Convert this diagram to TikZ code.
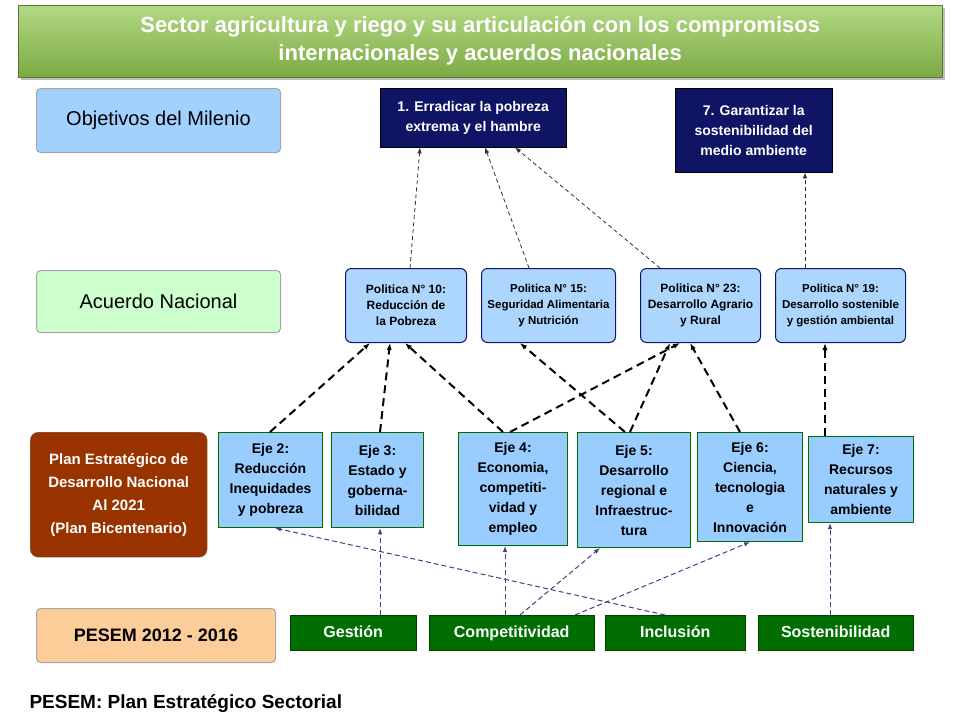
\documentclass[tikz,border=0pt]{standalone}
\usepackage{fontspec}
\setmainfont{Liberation Sans}
\usepackage{tikz}
\usetikzlibrary{arrows.meta,shadows}

\definecolor{navy}{RGB}{16,20,100}
\definecolor{lblue}{RGB}{153,204,255}
\definecolor{lgreen}{RGB}{204,255,204}
\definecolor{brown}{RGB}{153,51,0}
\definecolor{peach}{RGB}{252,204,153}
\definecolor{dgreen}{RGB}{0,110,0}
\definecolor{tgreen}{RGB}{146,200,80}

\tikzset{
	rowlabel/.style={shape=rectangle,rounded corners=4pt,draw=gray!70,line width=1pt,font=\fontsize{20}{22}\selectfont,anchor=north west},
	goal/.style={shape=rectangle,fill=navy,draw=black,text=white,font=\bfseries\fontsize{14}{20}\selectfont,align=center,anchor=north west},
	policy/.style={shape=rectangle,rounded corners=6pt,fill=lblue!80,draw=navy,line width=1pt,font=\bfseries\fontsize{12}{16}\selectfont,align=center,anchor=north west},
	eje/.style={shape=rectangle,fill=lblue,draw=dgreen,line width=1pt,font=\bfseries\fontsize{14}{20}\selectfont,align=center,anchor=north west},
	pesem/.style={shape=rectangle,fill=dgreen,draw=dgreen!60!black,text=white,font=\bfseries\fontsize{16}{18}\selectfont,anchor=north west,minimum height=35pt,text height=12pt,text depth=3pt},
	ejearrow/.style={-{Latex[length=7pt]},line width=2pt,dash pattern=on 8pt off 5pt},
	polarrow/.style={-{Latex[length=6pt]},line width=0.8pt,draw=black!80,dash pattern=on 4pt off 3pt},
	pesarrow/.style={-{Latex[length=6pt]},line width=1pt,draw=navy!80,dash pattern=on 5pt off 3pt}
}

\begin{document}
\begin{tikzpicture}[x=1pt,y=-1pt]
	\useasboundingbox (0,0) rectangle (960,720);

	\node[shape=rectangle,anchor=north west,minimum width=924pt,minimum height=72pt,top color=tgreen!70!white,bottom color=tgreen!85!black,draw=tgreen!60!black,drop shadow,text=white,font=\bfseries\fontsize{22}{28}\selectfont,align=center] (title) at (18,5) {Sector agricultura y riego y su articulación con los compromisos\\internacionales y acuerdos nacionales};

	\node[rowlabel,fill=lblue!90,minimum width=244pt,minimum height=64pt] (obj) at (36,88) {Objetivos del Milenio};
	\node[rowlabel,fill=lgreen,minimum width=244pt,minimum height=62pt] (acu) at (36,270) {Acuerdo Nacional};
	\node[shape=rectangle,rounded corners=8pt,fill=brown,draw=gray,text=white,font=\bfseries\fontsize{15}{23}\selectfont,align=center,anchor=north west,minimum width=177pt,minimum height=125pt] (plan) at (30,432) {Plan Estratégico de\\Desarrollo Nacional\\Al 2021\\(Plan Bicentenario)};
	\node[rowlabel,fill=peach,font=\bfseries\fontsize{18}{20}\selectfont,minimum width=239pt,minimum height=54pt] (pes) at (36,608) {PESEM 2012 - 2016};

	\node[goal,minimum width=186pt,minimum height=59pt] (o1) at (380,88) {1. Erradicar la pobreza\\extrema y el hambre};
	\node[goal,minimum width=157pt,minimum height=84pt] (o7) at (675,88) {7. Garantizar la\\sostenibilidad del\\medio ambiente};

	\node[policy,minimum width=121pt,minimum height=74pt] (p10) at (345,268) {Politica N° 10:\\Reducción de\\la Pobreza};
	\node[policy,minimum width=134pt,minimum height=74pt,font=\bfseries\fontsize{11.5}{16}\selectfont] (p15) at (481,268) {Politica N° 15:\\Seguridad Alimentaria\\y Nutrición};
	\node[policy,minimum width=120pt,minimum height=74pt] (p23) at (640,268) {Politica N° 23:\\Desarrollo Agrario\\y Rural};
	\node[policy,minimum width=130pt,minimum height=74pt,font=\bfseries\fontsize{11.5}{16}\selectfont] (p19) at (775,268) {Politica N° 19:\\Desarrollo sostenible\\y gestión ambiental};

	\node[eje,minimum width=104pt,minimum height=95pt] (e2) at (218,432) {Eje 2:\\Reducción\\Inequidades\\y pobreza};
	\node[eje,minimum width=92pt,minimum height=95pt] (e3) at (331,432) {Eje 3:\\Estado y\\goberna-\\bilidad};
	\node[eje,minimum width=109pt,minimum height=113pt] (e4) at (458,432) {Eje 4:\\Economia,\\competiti-\\vidad y\\empleo};
	\node[eje,minimum width=113pt,minimum height=115pt] (e5) at (577,432) {Eje 5:\\Desarrollo\\regional e\\Infraestruc-\\tura};
	\node[eje,minimum width=105pt,minimum height=109pt] (e6) at (697,432) {Eje 6:\\Ciencia,\\tecnologia\\e\\Innovación};
	\node[eje,minimum width=105pt,minimum height=86pt] (e7) at (808,436) {Eje 7:\\Recursos\\naturales y\\ambiente};

	\node[pesem,minimum width=126pt] (ges) at (290,615) {Gestión};
	\node[pesem,minimum width=165pt] (com) at (429,615) {Competitividad};
	\node[pesem,minimum width=140pt] (inc) at (605,615) {Inclusión};
	\node[pesem,minimum width=155pt] (sos) at (758,615) {Sostenibilidad};

	\node[anchor=west,font=\bfseries\fontsize{19}{21}\selectfont] (foot) at (26,704) {PESEM: Plan Estratégico Sectorial};

	% politicas -> objetivos
	\draw[polarrow] ([xshift=65pt]p10.north west) -- ([xshift=40pt]o1.south west);
	\draw[polarrow] ([xshift=48pt]p15.north west) -- ([xshift=105pt]o1.south west);
	\draw[polarrow] ([xshift=20pt]p23.north west) -- ([xshift=135pt]o1.south west);
	\draw[polarrow] ([xshift=30pt]p19.north west) -- ([xshift=130pt]o7.south west);

	% ejes -> politicas
	\draw[ejearrow] ([xshift=52pt]e2.north west) -- ([xshift=25pt]p10.south west);
	\draw[ejearrow] ([xshift=49pt]e3.north west) -- ([xshift=45pt]p10.south west);
	\draw[ejearrow] ([xshift=45pt]e4.north west) -- ([xshift=60pt]p10.south west);
	\draw[ejearrow] ([xshift=52pt]e4.north west) -- ([xshift=40pt]p23.south west);
	\draw[ejearrow] ([xshift=48pt]e5.north west) -- ([xshift=39pt]p15.south west);
	\draw[ejearrow] ([xshift=53pt]e5.north west) -- ([xshift=30pt]p23.south west);
	\draw[ejearrow] ([xshift=43pt]e6.north west) -- ([xshift=50pt]p23.south west);
	\draw[ejearrow] ([xshift=17pt]e7.north west) -- ([xshift=50pt]p19.south west);

	% pesem -> ejes
	\draw[pesarrow] ([xshift=90pt]ges.north west) -- ([xshift=49pt]e3.south west);
	\draw[pesarrow] ([xshift=76pt]com.north west) -- ([xshift=47pt]e4.south west);
	\draw[pesarrow] ([xshift=91pt]com.north west) -- ([xshift=23pt]e5.south west);
	\draw[pesarrow] ([xshift=146pt]com.north west) -- ([xshift=53pt]e6.south west);
	\draw[pesarrow] ([xshift=60pt]inc.north west) -- ([xshift=57pt]e2.south west);
	\draw[pesarrow] ([xshift=72pt]sos.north west) -- ([xshift=22pt]e7.south west);
\end{tikzpicture}
\end{document}
